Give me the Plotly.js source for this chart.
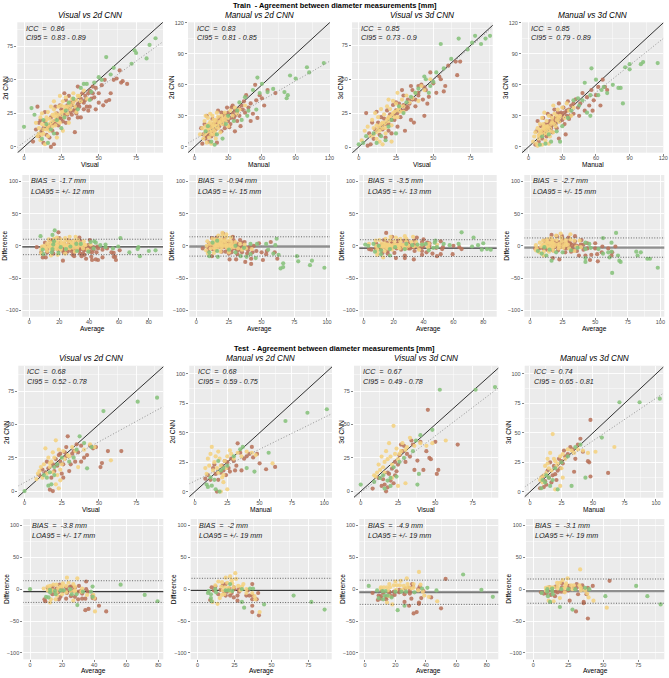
<!DOCTYPE html>
<html><head><meta charset="utf-8">
<script src="https://cdn.plot.ly/plotly-3.0.1.min.js"></script>
<style>html,body{margin:0;padding:0;background:#fff;}#chart{width:669px;height:678px;}</style>
</head><body><div id="chart"></div>
<script>
// ---------------- DATA ----------------
const blockTitles = ["Train  - Agreement between diameter measurements [mm]", "Test  - Agreement between diameter measurements [mm]"];
const panelTitles = ["Visual vs 2d CNN", "Manual vs 2d CNN", "Visual vs 3d CNN", "Manual vs 3d CNN"];
const xLabels = ["Visual", "Manual", "Visual", "Manual"];
const yLabels = ["2d CNN", "2d CNN", "3d CNN", "3d CNN"];
const baXLabel = "Average";
const baYLabel = "Difference";

const trainICC = ["0.86", "0.83", "0.85", "0.85"];
const trainCI95 = ["0.83 - 0.89", "0.81 - 0.85", "0.73 - 0.9", "0.79 - 0.89"];
const testICC = ["0.68", "0.68", "0.67", "0.74"];
const testCI95 = ["0.52 - 0.78", "0.59 - 0.75", "0.49 - 0.78", "0.65 - 0.81"];
const trainBias = [-1.7, -0.94, -3.5, -2.7];
const trainLOA = [12, 15, 13, 15];
const testBias = [-3.8, -2, -4.9, -3.1];
const testLOA = [17, 19, 19, 19];
const trainFitIntercept = [3.4, 7.1, 0, 0.5];
const trainFitSlope = [0.807, 0.63, 0.985, 0.87];
const testFitIntercept = [6.4, 9, -1, 7.2];
const testFitSlope = [0.611, 0.54, 0.85, 0.722];

// tick steps per row (scatter train, BA train, scatter test, BA test)
const xTickStep = [[25, 30, 25, 30], [20, 25, 20, 25], [25, 25, 25, 25], [20, 25, 20, 25]];
const yTickStep = [[25, 30, 25, 30], [50, 50, 50, 50], [25, 25, 25, 25], [50, 50, 50, 50]];

// ----- Train: Visual vs 2d CNN -----
const train1Brown = [[66,49],[69,47],[65,48],[62,51],[55,34],[57,35],[50,33],[53,31],[48,44],[47,37],[44,42],[42,30],[40,28],[38,36],[36,22],[34,11],[33,27],[31,26],[30,21],[29,31],[28,35],[27,24],[26,19],[25,28],[24,22],[23,16],[22,25],[21,30],[20,19],[19,12],[18,22],[17,7],[16,14],[15,9],[14,19],[13,3],[12,12],[11,20],[10,8],[9,30],[8,13],[6,4],[35,30],[37,33],[39,40],[41,35],[43,27],[46,45],[52,46],[54,50],[60,50],[32,24],[28,18],[20,2],[18,0],[24,31],[27,40],[30,38],[33,34],[36,45],[45,36],[48,28],[64,57],[10,18],[14,26],[22,10],[38,22],[58,40],[26,27],[31,33],[35,25],[40,33],[23,21],[19,17],[30,29],[32,31],[34,28],[37,30],[39,34],[41,38],[43,40],[25,21],[21,17],[17,15],[15,16],[13,14],[29,24],[36,32],[46,40],[50,40],[44,30],[27,26]];
const train1Yellow = [[8,18],[10,14],[11,22],[12,25],[13,10],[14,16],[15,20],[16,26],[17,12],[18,18],[19,24],[20,28],[21,16],[22,22],[23,30],[24,18],[25,26],[26,34],[27,22],[28,29],[29,25],[30,33],[31,28],[32,36],[34,30],[36,38],[38,34],[40,42],[42,36],[9,8],[11,5],[14,2],[16,8],[18,30],[20,34],[24,38],[26,12],[22,7],[12,17],[28,37],[33,40],[35,26],[30,18],[19,15],[17,21],[15,13],[21,25],[25,31],[27,30],[23,24],[13,13],[15,22],[17,17],[19,19],[21,20],[23,19],[25,24],[27,27],[29,30],[31,31],[33,33],[35,35],[37,38],[10,10],[12,9],[20,23],[16,15],[26,26]];
const train1Green = [[0,15],[5,29],[7,24],[12,6],[15,17],[16,3],[18,13],[20,10],[22,20],[25,14],[28,27],[30,33],[36,28],[38,44],[40,47],[42,47],[45,41],[47,48],[50,52],[55,67],[58,54],[60,59],[72,62],[74,72],[75,70],[82,66],[84,76],[88,81],[33,36],[27,22],[13,20],[44,35],[52,50]];

// ----- Train: Manual vs 2d CNN -----
const train2Brown = [[65,55],[72,52],[58,50],[62,40],[55,45],[50,42],[52,32],[56,28],[48,38],[45,33],[42,40],[40,30],[38,25],[36,35],[35,28],[33,38],[32,22],[30,33],[28,27],[27,18],[26,32],[25,24],[24,15],[23,28],[22,20],[21,35],[20,25],[19,17],[18,12],[17,22],[16,27],[15,10],[14,20],[13,5],[12,14],[11,30],[10,8],[9,22],[8,12],[7,3],[6,18],[44,44],[46,50],[34,40],[31,19],[29,38],[24,33],[20,4],[16,15],[60,47],[54,60],[36,15],[41,20],[50,25],[27,29],[21,21],[30,25],[22,28],[24,26],[26,22],[28,31],[30,30],[32,28],[34,32],[36,30],[38,34],[15,18],[17,16],[19,22],[13,12],[11,10],[40,37],[43,36]];
const train2Yellow = [[5,12],[7,18],[8,8],[9,25],[10,20],[11,14],[12,28],[13,18],[14,24],[15,16],[16,30],[17,12],[18,20],[19,26],[20,33],[21,18],[22,24],[23,14],[24,30],[25,22],[26,27],[27,33],[28,25],[30,28],[32,35],[34,30],[36,38],[38,32],[40,36],[45,40],[11,4],[13,9],[15,3],[17,26],[19,8],[21,29],[10,30],[14,32],[30,20],[12,21],[16,22],[18,15],[23,23],[9,12],[10,16],[12,18],[14,15],[16,20],[18,24],[20,20],[22,22],[24,26],[26,24],[28,29],[13,22],[15,12],[17,18],[19,20]];
const train2Green = [[115,81],[102,72],[100,77],[90,66],[85,69],[80,53],[82,47],[83,50],[56,67],[60,61],[52,55],[70,56],[65,53],[45,48],[40,43],[38,35],[48,35],[55,36],[30,30],[20,12],[15,5],[25,8],[12,20],[18,2],[35,25],[28,22],[10,15],[47,30],[42,26],[58,52]];

// ----- Train: Visual vs 3d CNN -----
const train3Brown = [[65,63],[66,53],[68,63],[60,60],[58,45],[55,50],[52,40],[50,47],[47,37],[45,42],[43,35],[42,46],[40,38],[38,30],[36,42],[35,20],[33,35],[32,28],[30,38],[28,22],[27,32],[26,15],[25,27],[24,20],[23,31],[22,10],[21,24],[20,17],[19,27],[18,7],[17,21],[16,13],[15,22],[14,9],[13,18],[12,26],[11,13],[10,6],[9,18],[8,2],[7,10],[6,1],[48,55],[54,52],[57,41],[46,32],[35,45],[29,42],[31,12],[37,18],[44,23],[30,27],[25,33],[40,45],[20,12],[33,29],[5,25],[22,20],[24,24],[26,25],[28,27],[30,31],[32,30],[34,32],[36,35],[38,35],[40,40],[16,16],[18,17],[20,21],[14,14],[44,44]];
const train3Yellow = [[2,5],[4,12],[6,15],[8,8],[9,20],[10,14],[11,25],[12,16],[13,22],[14,12],[15,28],[16,18],[17,24],[18,14],[19,30],[20,22],[21,28],[22,16],[23,34],[24,26],[25,32],[26,22],[28,30],[29,35],[30,26],[32,38],[34,33],[36,36],[38,40],[40,34],[42,45],[14,4],[16,2],[18,10],[20,35],[12,6],[26,40],[22,4],[44,42],[48,50],[15,17],[19,20],[23,25],[27,28],[10,9],[12,11],[14,15],[16,14],[18,18],[20,19],[22,23],[24,22],[26,27],[28,26],[30,30],[13,13],[17,17],[21,21]];
const train3Green = [[88,82],[82,76],[78,82],[76,77],[67,80],[55,76],[62,65],[57,58],[52,55],[45,50],[48,45],[40,43],[44,52],[38,40],[35,37],[30,25],[27,30],[25,10],[22,20],[18,5],[15,8],[20,15],[12,3],[10,10],[5,8],[3,3],[0,2],[50,48],[85,80],[73,72],[47,40],[32,33]];

// ----- Train: Manual vs 3d CNN -----
const train4Brown = [[68,58],[66,65],[62,58],[60,50],[58,45],[56,55],[54,40],[52,48],[50,35],[48,52],[46,42],[45,30],[44,38],[42,46],[40,32],[38,40],[36,27],[35,44],[34,35],[32,22],[31,38],[30,30],[28,25],[27,42],[26,33],[25,18],[24,28],[23,36],[22,22],[21,14],[20,30],[19,25],[18,18],[17,32],[16,10],[15,22],[14,15],[13,28],[12,8],[11,20],[10,12],[9,5],[8,25],[7,15],[6,2],[70,55],[64,40],[57,35],[33,12],[27,8],[29,33],[37,30],[24,24],[20,20],[22,26],[24,22],[26,28],[28,32],[30,26],[32,33],[34,30],[36,36],[16,18],[18,22],[20,18],[14,12],[12,15],[40,42]];
const train4Yellow = [[4,5],[5,10],[6,14],[7,3],[8,18],[9,8],[10,22],[11,15],[12,28],[13,12],[14,20],[15,6],[16,25],[17,16],[18,30],[19,10],[20,22],[21,28],[22,14],[23,32],[24,20],[25,26],[26,36],[28,30],[30,38],[32,28],[34,42],[36,35],[38,30],[40,38],[8,1],[12,2],[14,33],[18,3],[22,40],[10,16],[13,22],[16,19],[19,15],[27,24],[9,11],[11,12],[13,18],[15,14],[17,20],[19,18],[21,24],[23,22],[25,30],[27,28],[10,12],[14,17],[16,13]];
const train4Green = [[115,81],[102,82],[100,80],[90,80],[90,75],[86,77],[82,57],[80,57],[84,42],[75,60],[70,52],[65,55],[62,50],[60,65],[56,76],[55,50],[50,62],[48,45],[45,40],[52,33],[55,30],[40,45],[38,35],[35,28],[30,20],[25,15],[20,5],[15,3],[12,10],[18,12],[28,5],[10,2],[44,47],[67,58]];

// ----- Test: Visual vs 2d CNN -----
const test1Brown = [[29,41],[65,30],[56,30],[52,21],[51,18],[48,33],[46,32],[44,34],[42,27],[40,25],[38,22],[36,29],[35,35],[33,30],[32,28],[31,20],[30,15],[28,26],[27,29],[26,10],[25,13],[24,22],[23,27],[22,19],[21,24],[20,15],[19,20],[18,10],[17,1],[19,0],[16,17],[15,22],[14,14],[12,16],[10,12],[38,34],[26,20],[24,28],[28,33],[34,22]];
const test1Yellow = [[58,23],[47,33],[44,35],[40,31],[36,18],[34,30],[32,33],[30,26],[29,27],[27,24],[26,30],[25,20],[24,16],[23,31],[22,12],[21,38],[20,25],[19,14],[18,22],[17,18],[16,25],[15,13],[14,32],[13,20],[12,10],[11,18],[10,15],[9,13],[8,9],[21,5],[24,8],[17,21],[19,29],[23,2]];
const test1Green = [[0,0],[89,70],[76,67],[53,60],[37,41],[40,36],[45,33],[42,17],[30,22],[33,25],[22,20],[20,18],[17,14],[15,10],[18,5],[16,4],[25,25],[35,31],[13,12],[20,12]];

// ----- Test: Manual vs 2d CNN -----
const test2Brown = [[62,21],[55,19],[48,32],[45,29],[42,32],[40,30],[38,28],[35,33],[33,41],[32,22],[30,26],[28,28],[27,17],[26,20],[25,25],[24,14],[23,26],[22,18],[21,22],[20,16],[18,10],[17,0],[16,15],[15,23],[14,20],[12,10],[10,14],[8,11],[36,18],[44,38],[50,24],[31,18]];
const test2Yellow = [[60,24],[47,31],[44,33],[40,34],[36,30],[33,33],[30,28],[28,32],[27,35],[25,30],[24,20],[23,26],[22,14],[21,12],[20,22],[19,28],[18,16],[17,20],[16,30],[15,25],[14,18],[13,38],[12,32],[11,22],[10,28],[9,15],[8,20],[20,0],[22,8],[18,34],[25,2]];
const test2Green = [[102,70],[87,67],[70,60],[57,33],[46,17],[35,36],[37,38],[30,30],[25,22],[20,18],[15,10],[13,5],[10,4],[9,6],[12,12],[18,26],[22,20],[40,20],[19,0],[16,2]];

// ----- Test: Visual vs 3d CNN -----
const test3Brown = [[45,61],[65,35],[52,16],[51,13],[50,37],[47,24],[46,25],[44,30],[42,16],[40,37],[36,16],[35,35],[33,26],[31,28],[30,22],[29,34],[27,35],[26,27],[25,20],[24,15],[23,12],[22,6],[21,17],[20,8],[19,13],[18,3],[17,0],[16,5],[15,9],[14,4],[12,10],[8,2],[28,30],[34,38],[38,23],[23,22],[18,14]];
const test3Yellow = [[57,38],[48,36],[44,34],[40,36],[36,34],[33,40],[31,33],[30,31],[28,36],[27,30],[26,28],[25,24],[24,32],[23,28],[22,49],[21,20],[20,26],[19,36],[18,24],[17,30],[16,22],[15,18],[14,26],[13,16],[12,20],[11,14],[10,11],[9,12],[25,4],[30,6],[21,10],[16,14]];
const test3Green = [[0,5],[90,78],[77,76],[53,76],[48,46],[40,42],[37,38],[35,30],[39,13],[38,5],[29,25],[26,22],[24,11],[20,10],[18,8],[15,12],[16,2],[20,4],[13,10],[9,7],[22,18]];

// ----- Test: Manual vs 3d CNN -----
const test4Brown = [[48,61],[62,16],[48,13],[47,25],[46,26],[42,34],[40,45],[38,40],[35,17],[34,36],[32,38],[30,32],[28,30],[27,35],[25,26],[24,20],[23,28],[22,18],[21,10],[20,15],[19,22],[18,14],[17,8],[16,25],[15,12],[14,18],[13,6],[12,9],[11,4],[10,13],[8,3],[26,24],[36,28]];
const test4Yellow = [[67,38],[52,34],[46,33],[42,35],[38,36],[35,33],[33,35],[30,36],[28,28],[26,32],[25,20],[24,30],[22,24],[21,22],[20,26],[19,28],[18,49],[17,18],[16,33],[15,20],[14,24],[13,16],[12,22],[11,14],[10,8],[9,12],[8,10],[24,5],[20,2],[26,12],[14,28]];
const test4Green = [[103,79],[87,76],[71,76],[57,46],[44,12],[40,40],[36,38],[33,5],[30,30],[25,25],[20,20],[18,10],[15,12],[12,8],[10,10],[9,3],[22,2],[16,5],[13,14]];

// ---------------- LAYOUT CONSTANTS ----------------
const W = 669, H = 678;
const COLORS = {brown: '#B8735B', yellow: '#F4D27F', green: '#86C17B'};
const FONT = 'Liberation Sans, Arial, Helvetica, sans-serif';
const rowsPx = [[22.3, 152.7], [175, 316.7], [365.7, 497.7], [519, 659.3]];
const colsPx = [
  [[17.3, 163], [188, 330], [352, 492.7], [522, 663.3]],
  [[22.3, 163], [189.3, 330], [359.3, 496.7], [524.3, 664.3]],
  [[18.3, 163.3], [189.3, 332], [354, 498.3], [524.7, 663.3]],
  [[23.3, 163.3], [190.7, 331.7], [359.3, 498.3], [526, 664.3]]
];
const xRanges = [
  [[-4.5, 93], [-5.7, 120.5], [-4.5, 89.8], [-5.9, 120]],
  [[-4.7, 89.5], [-5.3, 102.3], [-3, 89], [-4.4, 103]],
  [[-4.2, 93.2], [-4.4, 106], [-4.5, 92.2], [-4.2, 105.8]],
  [[-4.2, 83.1], [-4.7, 90.8], [-3.7, 87.6], [-5.2, 93.6]]
];
const yRanges = [
  [[-4.3, 92.9], [-5.7, 120.5], [-4.2, 92], [-5.7, 120.5]],
  [[-110, 110], [-110, 110], [-110, 110], [-110, 110]],
  [[-5, 94], [-5.2, 107], [-4.8, 94], [-5, 107]],
  [[-110, 110], [-110, 110], [-110, 110], [-110, 110]]
];
const biasStyle = [
  [{c: '#3a3a3a', w: 1.3}, {c: '#8f8f8f', w: 2.4}, {c: '#3a3a3a', w: 1.3}, {c: '#8f8f8f', w: 2.4}],
  [{c: '#3a3a3a', w: 1.3}, {c: '#3a3a3a', w: 1.3}, {c: '#7a7a7a', w: 2.0}, {c: '#8f8f8f', w: 2.4}]
];

const scatterData = [
  [{brown: train1Brown, yellow: train1Yellow, green: train1Green},
   {brown: train2Brown, yellow: train2Yellow, green: train2Green},
   {brown: train3Brown, yellow: train3Yellow, green: train3Green},
   {brown: train4Brown, yellow: train4Yellow, green: train4Green}],
  [{brown: test1Brown, yellow: test1Yellow, green: test1Green},
   {brown: test2Brown, yellow: test2Yellow, green: test2Green},
   {brown: test3Brown, yellow: test3Yellow, green: test3Green},
   {brown: test4Brown, yellow: test4Yellow, green: test4Green}]
];
const iccs = [trainICC, testICC], cis = [trainCI95, testCI95];
const biases = [trainBias, testBias], loas = [trainLOA, testLOA];
const fitA = [trainFitIntercept, testFitIntercept], fitB = [trainFitSlope, testFitSlope];

const NB = '\u00A0';
const traces = [];
const annotations = [];
const layout = {
  width: W, height: H, margin: {l: 0, r: 0, t: 0, b: 0},
  paper_bgcolor: '#FFFFFF', plot_bgcolor: '#EBEBEB', showlegend: false,
  font: {family: FONT, color: '#000000'}, annotations: annotations
};

function axId(i) { return i === 0 ? '' : String(i + 1); }

for (let r = 0; r < 4; r++) {
  for (let c = 0; c < 4; c++) {
    const i = r * 4 + c, id = axId(i);
    const cp = colsPx[r][c], rp = rowsPx[r];
    const common = {
      showgrid: true, gridcolor: '#FFFFFF', gridwidth: 0.9, zeroline: false, showline: false,
      ticks: 'outside', ticklen: 2, tickwidth: 0.6, tickcolor: '#333333',
      tickfont: {family: FONT, size: 5.5, color: '#4D4D4D'}, fixedrange: true,
      tickmode: 'linear', tick0: 0
    };
    layout['xaxis' + id] = Object.assign({}, common, {
      domain: [cp[0] / W, cp[1] / W], range: xRanges[r][c], anchor: 'y' + id,
      dtick: xTickStep[r][c], ticklabelstandoff: -2,
      minor: {showgrid: true, gridcolor: '#FFFFFF', gridwidth: 0.45, dtick: xTickStep[r][c] / 2, tick0: 0, ticks: ''}
    });
    layout['yaxis' + id] = Object.assign({}, common, {
      domain: [1 - rp[1] / H, 1 - rp[0] / H], range: yRanges[r][c], anchor: 'x' + id,
      dtick: yTickStep[r][c],
      minor: {showgrid: true, gridcolor: '#FFFFFF', gridwidth: 0.45, dtick: yTickStep[r][c] / 2, tick0: 0, ticks: ''}
    });
    const xa = 'x' + id, ya = 'y' + id;
    const block = Math.floor(r / 2);
    const isBA = r % 2 === 1;
    const d = scatterData[block][c];
    const xr = xRanges[r][c], yr = yRanges[r][c];
    const cx = (cp[0] + cp[1]) / 2 / W;
    const cy = 1 - (rp[0] + rp[1]) / 2 / H;

    if (!isBA) {
      const lo = Math.min(xr[0], yr[0]), hi = Math.max(xr[1], yr[1]);
      traces.push({x: [lo, hi], y: [lo, hi], xaxis: xa, yaxis: ya, mode: 'lines',
        line: {color: '#000000', width: 0.8}, hoverinfo: 'skip'});
    } else {
      const b = biases[block][c], st = biasStyle[block][c];
      traces.push({x: [xr[0] - 10, xr[1] + 10], y: [b, b], xaxis: xa, yaxis: ya, mode: 'lines',
        line: {color: st.c, width: st.w}, hoverinfo: 'skip'});
    }
    ['brown', 'yellow', 'green'].forEach(g => {
      const pts = d[g];
      let xs, ys;
      if (!isBA) { xs = pts.map(p => p[0]); ys = pts.map(p => p[1]); }
      else { xs = pts.map(p => (p[0] + p[1]) / 2); ys = pts.map(p => p[1] - p[0]); }
      traces.push({x: xs, y: ys, xaxis: xa, yaxis: ya, mode: 'markers',
        marker: {color: COLORS[g], size: 4.2, opacity: 0.88, line: {width: 0}}, hoverinfo: 'skip'});
    });
    if (!isBA) {
      const a = fitA[block][c], s = fitB[block][c];
      traces.push({x: [xr[0], xr[1]], y: [a + s * xr[0], a + s * xr[1]], xaxis: xa, yaxis: ya, mode: 'lines',
        line: {color: '#8a8a8a', width: 0.9, dash: '1px,2px'}, hoverinfo: 'skip'});
      annotations.push({xref: xa + ' domain', yref: ya + ' domain', x: 0, y: 0.954, xanchor: 'left', yanchor: 'middle',
        xshift: 7, text: '<i>ICC' + NB + NB + '=' + NB + NB + iccs[block][c] + '</i>', showarrow: false,
        font: {family: FONT, size: 7.2, color: '#1a1a1a'}});
      annotations.push({xref: xa + ' domain', yref: ya + ' domain', x: 0, y: 0.882, xanchor: 'left', yanchor: 'middle',
        xshift: 7, text: '<i>CI95' + NB + '=' + NB + NB + cis[block][c] + '</i>', showarrow: false,
        font: {family: FONT, size: 7.2, color: '#1a1a1a'}});
      annotations.push({xref: 'paper', yref: 'paper', x: cx, y: 1 - (rp[0] - 7.3) / H, xanchor: 'center', yanchor: 'middle',
        text: '<i>' + panelTitles[c] + '</i>', showarrow: false, font: {family: FONT, size: 8.2, color: '#000000'}});
      annotations.push({xref: 'paper', yref: 'paper', x: cx, y: 1 - (rp[1] + 12) / H, xanchor: 'center', yanchor: 'middle',
        text: xLabels[c], showarrow: false, font: {family: FONT, size: 6.6, color: '#000000'}});
      annotations.push({xref: 'paper', yref: 'paper', x: (cp[0] - (c % 2 === 0 ? 12 : 16.5)) / W, y: cy, xanchor: 'center', yanchor: 'middle',
        textangle: -90, text: yLabels[c], showarrow: false, font: {family: FONT, size: 6.6, color: '#000000'}});
    } else {
      const b = biases[block][c], l = loas[block][c];
      [b + l, b - l].forEach(v => {
        traces.push({x: [xr[0] - 10, xr[1] + 10], y: [v, v], xaxis: xa, yaxis: ya, mode: 'lines',
          line: {color: '#444444', width: 0.8, dash: '1px,1.6px'}, hoverinfo: 'skip'});
      });
      const ty1 = block === 0 ? 0.958 : 0.952, ty2 = block === 0 ? 0.887 : 0.879;
      annotations.push({xref: xa + ' domain', yref: ya + ' domain', x: 0, y: ty1, xanchor: 'left', yanchor: 'middle',
        xshift: 6.5, text: '<i>BIAS' + NB + NB + '=' + NB + NB + b + ' mm</i>', showarrow: false,
        font: {family: FONT, size: 7.2, color: '#1a1a1a'}});
      annotations.push({xref: xa + ' domain', yref: ya + ' domain', x: 0, y: ty2, xanchor: 'left', yanchor: 'middle',
        xshift: 6.5, text: '<i>LOA95 = +/- ' + l + ' mm</i>', showarrow: false,
        font: {family: FONT, size: 7.2, color: '#1a1a1a'}});
      annotations.push({xref: 'paper', yref: 'paper', x: cx, y: 1 - (rp[1] + 12) / H, xanchor: 'center', yanchor: 'middle',
        text: baXLabel, showarrow: false, font: {family: FONT, size: 6.6, color: '#000000'}});
      annotations.push({xref: 'paper', yref: 'paper', x: (cp[0] - 17.5) / W, y: cy, xanchor: 'center', yanchor: 'middle',
        textangle: -90, text: baYLabel, showarrow: false, font: {family: FONT, size: 6.6, color: '#000000'}});
    }
  }
}
annotations.push({xref: 'paper', yref: 'paper', x: 0.5, y: 1 - 5 / H, xanchor: 'center', yanchor: 'middle',
  text: '<b>' + blockTitles[0].replace('  ', NB + NB) + '</b>', showarrow: false, font: {family: FONT, size: 7.4, color: '#000000'}});
annotations.push({xref: 'paper', yref: 'paper', x: 0.5, y: 1 - 348.3 / H, xanchor: 'center', yanchor: 'middle',
  text: '<b>' + blockTitles[1].replace('  ', NB + NB) + '</b>', showarrow: false, font: {family: FONT, size: 7.4, color: '#000000'}});

Plotly.newPlot('chart', traces, layout, {staticPlot: true, displayModeBar: false});
</script>
</body></html>
